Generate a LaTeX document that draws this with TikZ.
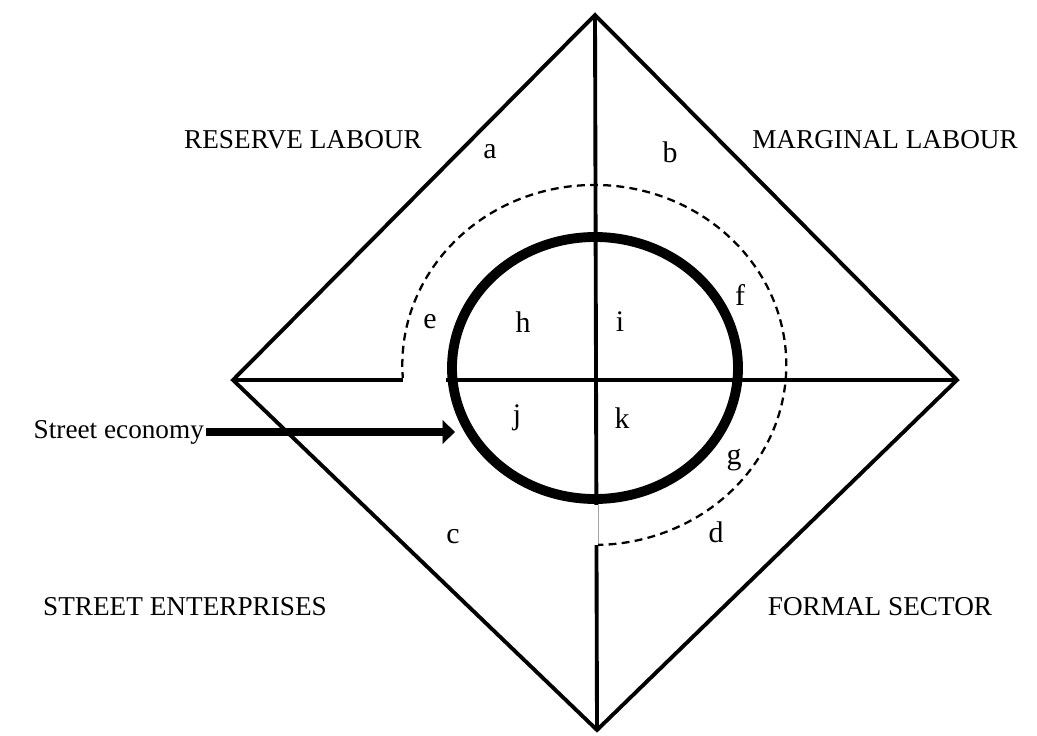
\documentclass[tikz,border=0pt]{standalone}
\usepackage{fontspec}
\setmainfont{Liberation Serif}
\usetikzlibrary{arrows.meta}

\tikzset{
  edge/.style={line width=2.2pt},
  ring/.style={line width=5.6pt},
  halo/.style={dashed, dash pattern=on 4.5pt off 3pt, line width=1.3pt},
  gap/.style={white, line width=1.8pt},
  zone/.style={font=\fontsize{15.5}{18}\selectfont},
  part/.style={font=\fontsize{17}{20}\selectfont},
  pointer/.style={line width=5pt, -{Triangle[length=7pt,width=13pt]}}
}

\begin{document}
\begin{tikzpicture}[x=0.02cm,y=-0.02cm]
  \useasboundingbox (0,0) rectangle (1037,736);

  % corners of the square
  \coordinate (top) at (595,15);
  \coordinate (left) at (233,380);
  \coordinate (right) at (957,380);
  \coordinate (bottom) at (597,730);

  \draw[edge] (top) -- (right) -- (bottom) -- (left) -- cycle;
  \draw[edge] (top) -- (bottom);
  \draw[edge] (left) -- (right);

  % dashed band and its openings
  \coordinate (dashstart) at (403,380);
  \draw[halo] (dashstart) arc[start angle=175.2, end angle=450, x radius=192, y radius=180];
  \draw[gray!50, line width=2.4pt] (dashstart) -- (446,380);
  \draw[gap] (dashstart) -- (446,380);
  \draw[gray!50, line width=2.4pt] (596,505) -- (596,545);
  \draw[gap] (596,505) -- (596,545);

  % street economy
  \draw[ring] (595,368) ellipse [x radius=143, y radius=131];

  \node[zone, anchor=east, inner sep=1pt] (street) at (206,432) {Street economy};
  \coordinate (tip) at (455,432);
  \draw[pointer, black!25, shift={(2,3)}] (street.east) -- (tip);
  \draw[pointer] (street.east) -- (tip);

  % sector names
  \node[zone] (reserve) at (303,140) {RESERVE LABOUR};
  \node[zone] (marginal) at (885,140) {MARGINAL LABOUR};
  \node[zone] (enterprises) at (185,607) {STREET ENTERPRISES};
  \node[zone] (formal) at (880,607) {FORMAL SECTOR};

  % region letters
  \node[part] (a) at (490,152) {a};
  \node[part] (b) at (670,152) {b};
  \node[part] (c) at (453,537) {c};
  \node[part] (d) at (716,532) {d};
  \node[part] (e) at (430,322) {e};
  \node[part] (f) at (740,295) {f};
  \node[part] (g) at (734,460) {g};
  \node[part] (h) at (523,322) {h};
  \node[part] (i) at (620,322) {i};
  \node[part] (j) at (517,418) {j};
  \node[part] (k) at (622,418) {k};
\end{tikzpicture}
\end{document}
